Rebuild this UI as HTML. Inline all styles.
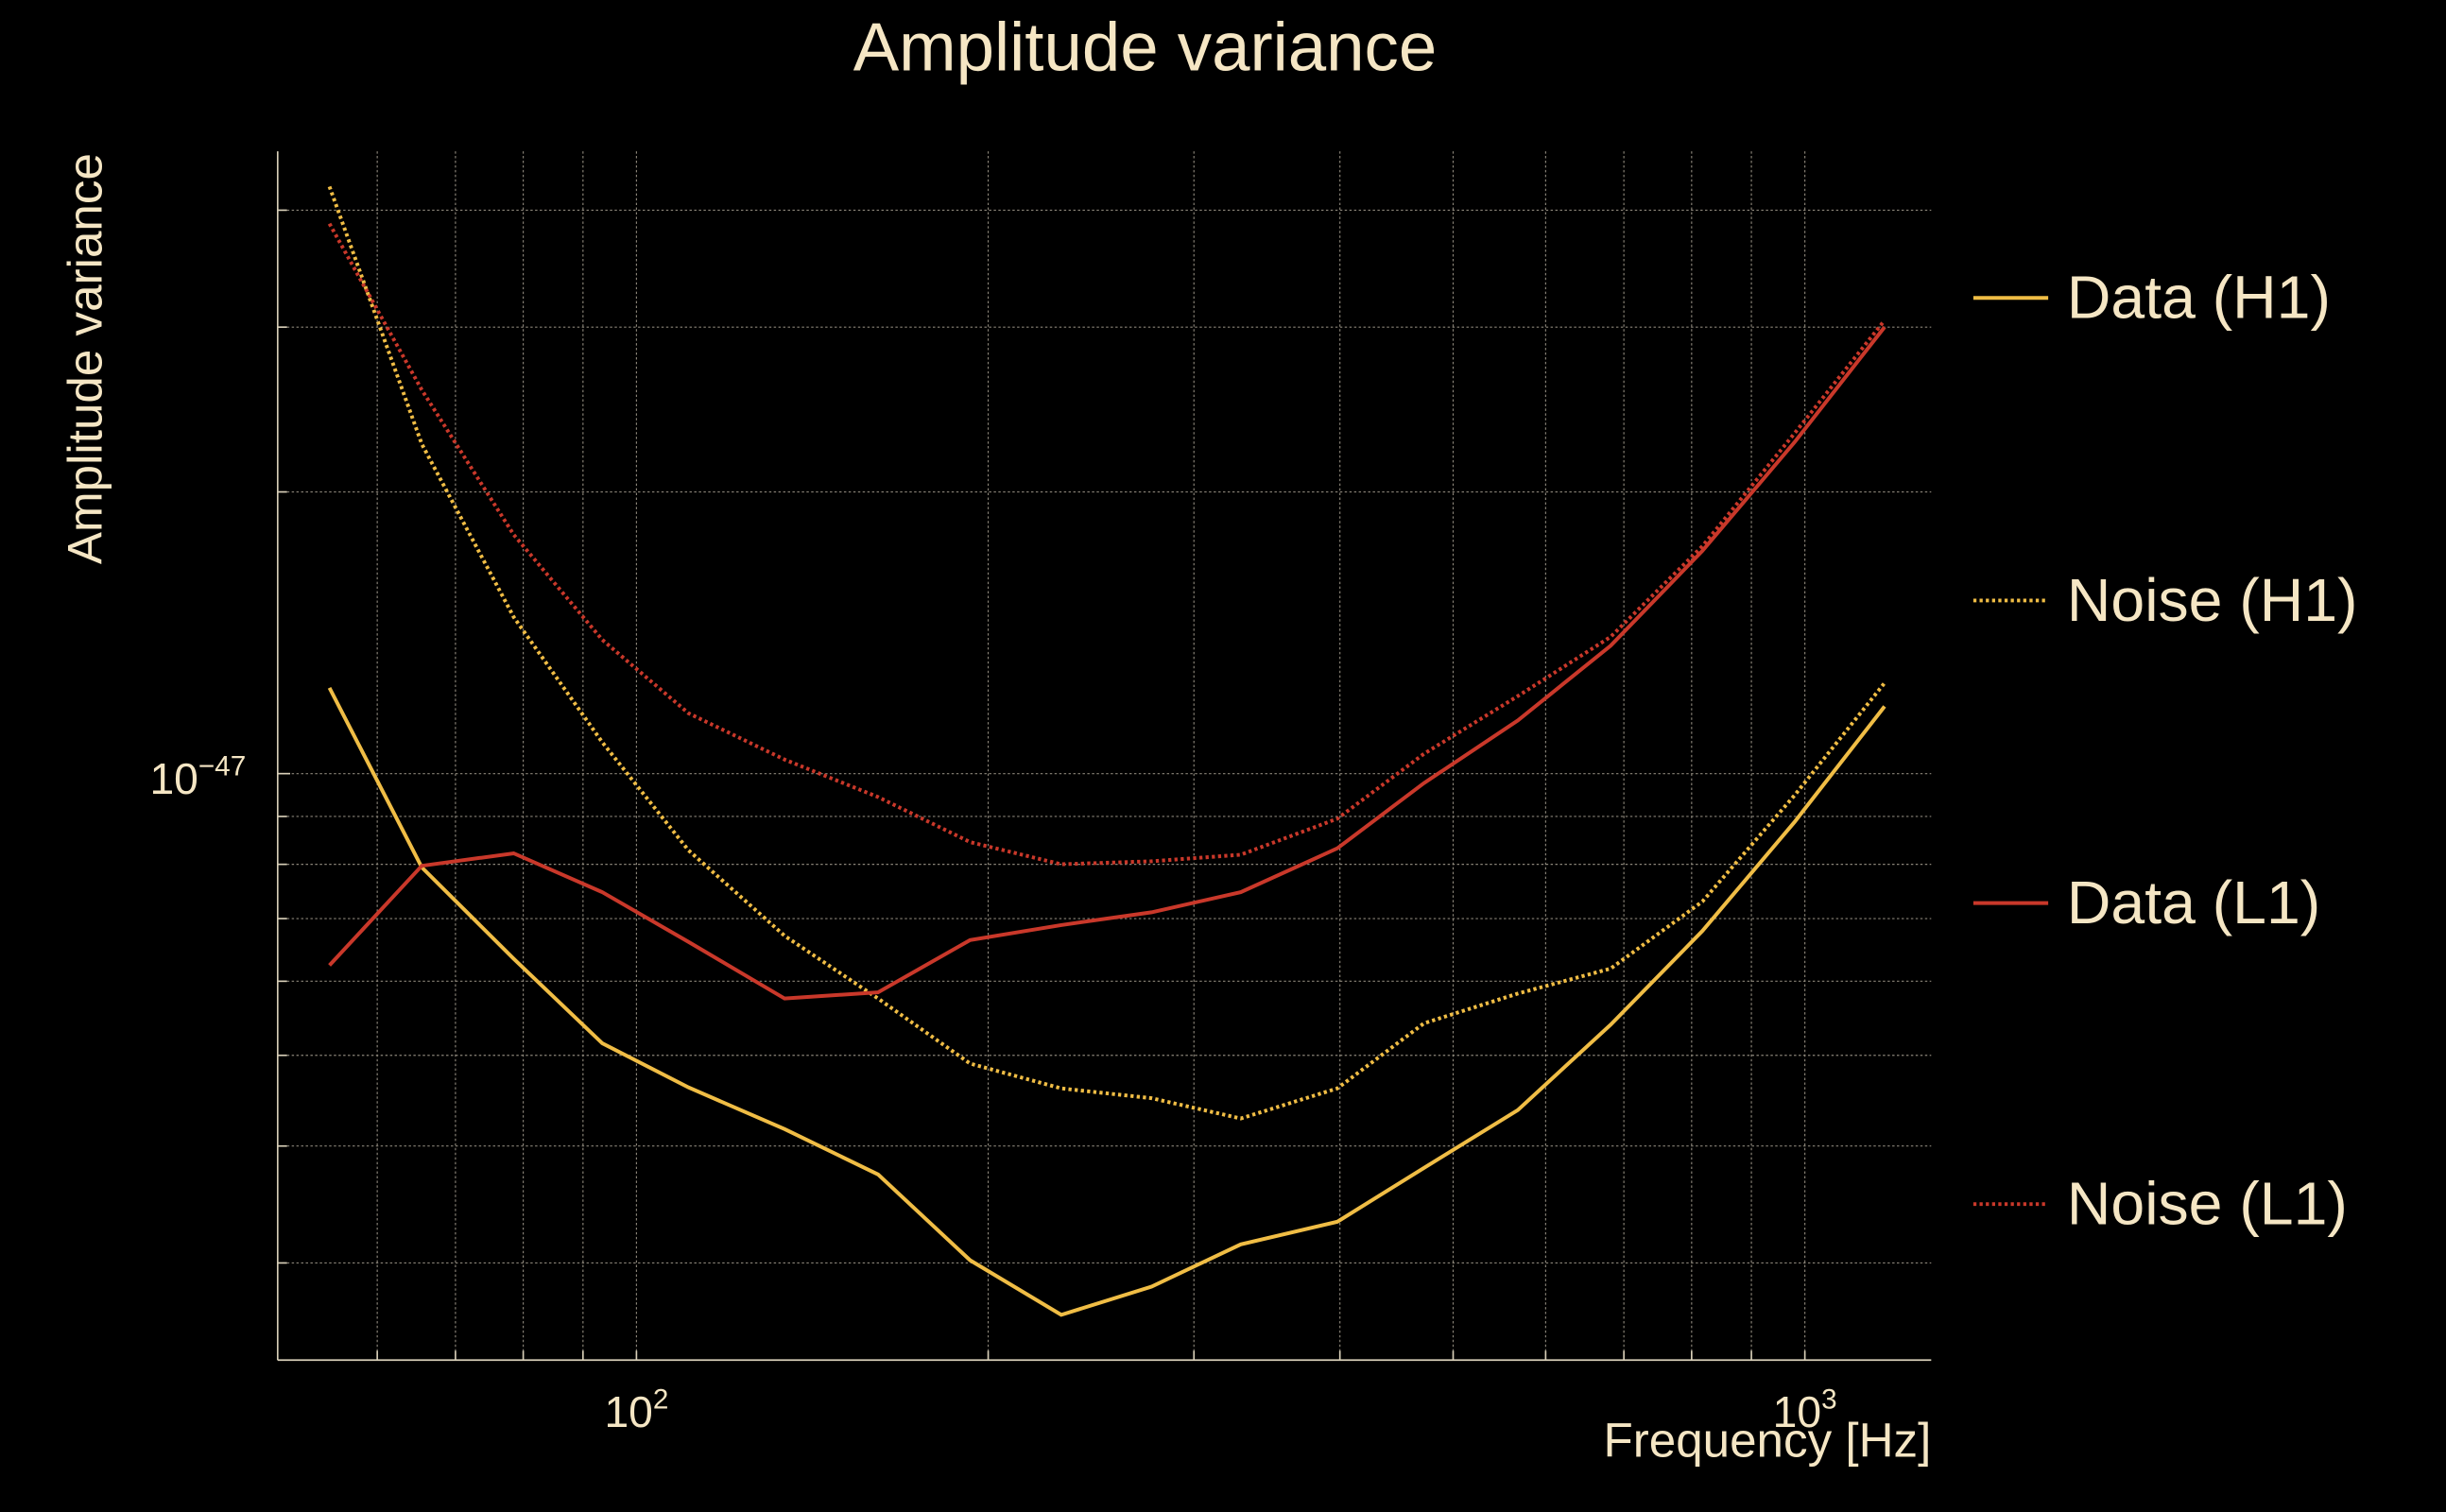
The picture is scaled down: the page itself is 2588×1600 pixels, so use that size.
<!DOCTYPE html>
<html><head><meta charset="utf-8"><style>
html,body{margin:0;padding:0;background:#000;}
svg{display:block;}
text{font-family:"Liberation Sans",sans-serif;fill:#f5e6c4;}
</style></head><body>
<svg id="chart" width="2588" height="1600" viewBox="0 0 1568 969.4" preserveAspectRatio="none" xmlns="http://www.w3.org/2000/svg">
<rect width="1568" height="969.4" fill="#000"/>
<g id="grid"></g>
<g id="series"></g>
<line x1="178" y1="97" x2="178" y2="872" stroke="#d8cfb8" stroke-width="1"/>
<line x1="178" y1="872" x2="1238" y2="872" stroke="#d8cfb8" stroke-width="1"/>
<text x="734" y="45" font-size="44" text-anchor="middle">Amplitude variance</text>
<text transform="translate(65,230) rotate(-90)" font-size="31" text-anchor="middle">Amplitude variance</text>
<text x="1238" y="934" font-size="31" text-anchor="end">Frequency [Hz]</text>
<text x="408" y="915" font-size="28" text-anchor="middle">10<tspan font-size="18" dy="-12">2</tspan></text>
<text x="1157" y="915" font-size="28" text-anchor="middle">10<tspan font-size="18" dy="-12">3</tspan></text>
<text x="96" y="509" font-size="28">10<tspan font-size="18" dy="-12">−47</tspan></text>
<g>
<g><line x1="1265" y1="191" x2="1313" y2="191" stroke="#f0bd45" stroke-width="2.4"/><text x="1325" y="204" font-size="39">Data (H1)</text></g>
<g><line x1="1265" y1="385" x2="1313" y2="385" stroke="#f0bd45" stroke-width="2.4" stroke-dasharray="2,2"/><text x="1325" y="398" font-size="39">Noise (H1)</text></g>
<g><line x1="1265" y1="579" x2="1313" y2="579" stroke="#c9382a" stroke-width="2.4"/><text x="1325" y="592" font-size="39">Data (L1)</text></g>
<g><line x1="1265" y1="772" x2="1313" y2="772" stroke="#c9382a" stroke-width="2.4" stroke-dasharray="2,2"/><text x="1325" y="785" font-size="39">Noise (L1)</text></g>
</g>
</svg>
<script>
const freqs=[54.6,65.5,78.5,93.5,110.8,133.9,161,193,231,276,329,398,472,568,682,817,980,1170];
const dataH1=[1.235e-47,7.94e-48,6.34e-48,5.15e-48,4.62e-48,4.17e-48,3.73e-48,3.02e-48,2.64e-48,2.83e-48,3.14e-48,3.32e-48,3.79e-48,4.37e-48,5.39e-48,6.79e-48,8.88e-48,1.18e-47];
const noiseH1=[4.24e-47,2.25e-47,1.47e-47,1.08e-47,8.28e-48,6.71e-48,5.75e-48,4.9e-48,4.61e-48,4.5e-48,4.28e-48,4.61e-48,5.41e-48,5.82e-48,6.19e-48,7.3e-48,9.48e-48,1.25e-47];
const dataL1=[6.24e-48,7.97e-48,8.22e-48,7.47e-48,6.61e-48,5.75e-48,5.84e-48,6.64e-48,6.89e-48,7.11e-48,7.47e-48,8.32e-48,9.77e-48,1.14e-47,1.37e-47,1.73e-47,2.26e-47,3.0e-47];
const noiseL1=[3.87e-47,2.57e-47,1.8e-47,1.39e-47,1.16e-47,1.035e-47,9.44e-48,8.45e-48,8.0e-48,8.06e-48,8.19e-48,8.95e-48,1.05e-47,1.21e-47,1.4e-47,1.75e-47,2.31e-47,3.05e-47];
const xGridTicks=[60,70,80,90,100,200,300,400,500,600,700,800,900,1000];
const yGridTicks=[3e-48,4e-48,5e-48,6e-48,7e-48,8e-48,9e-48,1e-47,2e-47,3e-47,4e-47];
const NS='http://www.w3.org/2000/svg';
function xs(f){return 408+(Math.log10(f)-2)*749;}
function ys(v){return 496-(Math.log10(v)+47)*600;}
const grid=document.getElementById('grid');
xGridTicks.forEach(t=>{const l=document.createElementNS(NS,'line');
l.setAttribute('x1',xs(t));l.setAttribute('x2',xs(t));l.setAttribute('y1',97);l.setAttribute('y2',872);
l.setAttribute('stroke','#8a8478');l.setAttribute('stroke-width','0.7');l.setAttribute('stroke-dasharray','1.5,1.5');


grid.appendChild(l);
const tk=document.createElementNS(NS,'line');tk.setAttribute('x1',xs(t));tk.setAttribute('x2',xs(t));tk.setAttribute('y1',872);tk.setAttribute('y2',866);tk.setAttribute('stroke','#d8cfb8');


grid.appendChild(tk);});
yGridTicks.forEach(t=>{const l=document.createElementNS(NS,'line');
l.setAttribute('x1',178);l.setAttribute('x2',1238);l.setAttribute('y1',ys(t));l.setAttribute('y2',ys(t));
l.setAttribute('stroke','#8a8478');l.setAttribute('stroke-width','0.7');l.setAttribute('stroke-dasharray','1.5,1.5');


grid.appendChild(l);
const tk=document.createElementNS(NS,'line');tk.setAttribute('x1',178);tk.setAttribute('x2',t===1e-47?186:184);tk.setAttribute('y1',ys(t));tk.setAttribute('y2',ys(t));tk.setAttribute('stroke','#d8cfb8');


grid.appendChild(tk);});
const ser=document.getElementById('series');
function draw(vals,color,dash,name){const p=document.createElementNS(NS,'polyline');
p.setAttribute('points',vals.map((v,i)=>xs(freqs[i]).toFixed(1)+','+ys(v).toFixed(1)).join(' '));
p.setAttribute('fill','none');p.setAttribute('stroke',color);p.setAttribute('stroke-width','2.4');
if(dash)p.setAttribute('stroke-dasharray','2,2');


ser.appendChild(p);}
draw(noiseH1,'#f0bd45',true,'noise-h1-line');
draw(noiseL1,'#c9382a',true,'noise-l1-line');
draw(dataH1,'#f0bd45',false,'data-h1-line');
draw(dataL1,'#c9382a',false,'data-l1-line');
</script>
</body></html>
